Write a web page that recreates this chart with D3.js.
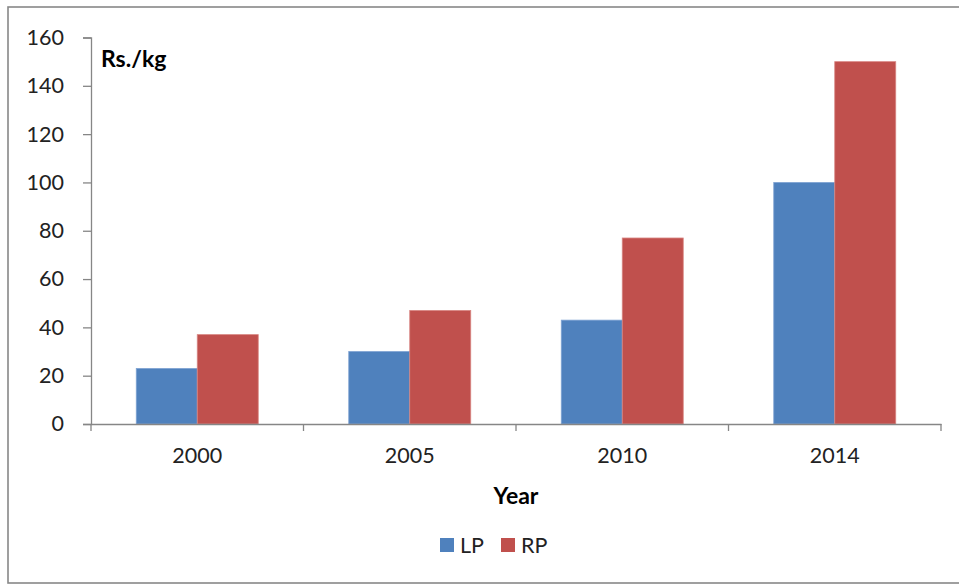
<!DOCTYPE html>
<html><head><meta charset="utf-8">
<script src="https://cdn.jsdelivr.net/npm/d3@7"></script>
<style>body{margin:0;background:#fff}svg{display:block}</style>
</head><body>
<svg id="c" width="959" height="584"></svg>
<script>
const categories = ["2000", "2005", "2010", "2014"];
const seriesNames = ["LP", "RP"];
const lpValues = [23, 30, 43, 100];
const rpValues = [37, 47, 77, 150];
const yTicks = [0, 20, 40, 60, 80, 100, 120, 140, 160];
const colors = ["#4F81BD", "#C0504D"];
const strokes = ["#7FA3D3", "#D88683"];

(function () {
const svg = d3.select("#c");
const font = "Lato, 'Open Sans', sans-serif";
const axisColor = "#868686";

svg.append("rect").attr("x", 8).attr("y", 7).attr("width", 960).attr("height", 576)
  .attr("fill", "#fff").attr("stroke", "#888").attr("stroke-width", 1.6);

const pLeft = 91, pRight = 941, pTop = 37.5, pBottom = 424;
const x = d3.scaleBand().domain(categories).range([pLeft, pRight]).paddingInner(0).paddingOuter(0);
const xs = d3.scaleBand().domain(seriesNames).range([0, x.bandwidth()]).paddingInner(0).paddingOuter(0.742);
const y = d3.scaleLinear().domain([0, 160]).range([pBottom, pTop]);

const data = categories.map((c, i) => ({cat: c, vals: [lpValues[i], rpValues[i]]}));
const g = svg.append("g");
data.forEach(d => {
  d.vals.forEach((v, j) => {
    g.append("rect")
      .attr("x", x(d.cat) + xs(seriesNames[j]))
      .attr("y", y(v))
      .attr("width", xs.bandwidth())
      .attr("height", y(0) - y(v))
      .attr("fill", colors[j])
      .attr("stroke", strokes[j]).attr("stroke-width", 0.8);
  });
});

// Y axis
const yAxis = svg.append("g").attr("transform", `translate(${pLeft},0)`)
  .call(d3.axisLeft(y).tickValues(yTicks).tickSize(8).tickPadding(19).tickFormat(d3.format("d")));
yAxis.select(".domain").attr("stroke", axisColor).attr("stroke-width", 1.3);
yAxis.selectAll(".tick line").attr("stroke", axisColor).attr("stroke-width", 1.3);
yAxis.selectAll(".tick text").attr("font-family", font).attr("font-size", 21.5).attr("fill", "#222");

// X axis
const xAxis = svg.append("g").attr("transform", `translate(0,${pBottom})`)
  .call(d3.axisBottom(x).tickSize(0).tickPadding(24));
xAxis.select(".domain").attr("stroke", axisColor).attr("stroke-width", 1.3);
xAxis.selectAll(".tick text").attr("font-family", font).attr("font-size", 21.5).attr("fill", "#222");
const bounds = categories.map(c => x(c)).concat([pRight]);
svg.append("g").selectAll("line").data(bounds).join("line")
  .attr("x1", d => d).attr("x2", d => d).attr("y1", pBottom).attr("y2", pBottom + 7)
  .attr("stroke", axisColor).attr("stroke-width", 1.3);

// Labels
svg.append("text").attr("x", 101).attr("y", 67).text("Rs./kg")
  .attr("font-family", font).attr("font-size", 23).attr("font-weight", "bold").attr("fill", "#000");
svg.append("text").attr("x", (pLeft + pRight) / 2).attr("y", 504).attr("text-anchor", "middle").text("Year")
  .attr("font-family", font).attr("font-size", 23).attr("font-weight", "bold").attr("fill", "#000");

// Legend
const legend = svg.append("g");
const lx = [440, 501];
seriesNames.forEach((s, j) => {
  legend.append("rect").attr("x", lx[j]).attr("y", 538).attr("width", 14).attr("height", 14).attr("fill", colors[j]);
  legend.append("text").attr("x", lx[j] + 20).attr("y", 553).text(s)
    .attr("font-family", font).attr("font-size", 21.5).attr("fill", "#222");
});
})();
</script>
</body></html>
